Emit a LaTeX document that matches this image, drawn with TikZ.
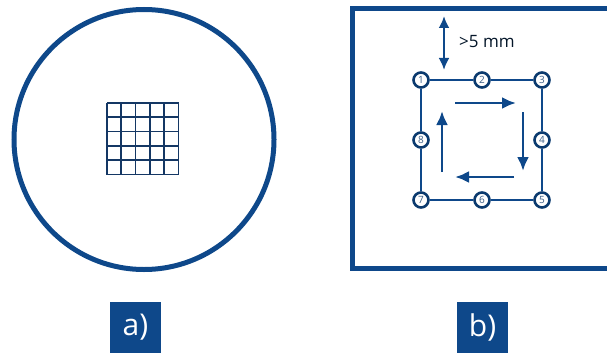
\documentclass[tikz,border=0pt]{standalone}
\usepackage{fontspec}
\setmainfont{Open Sans}
\usetikzlibrary{arrows.meta}
\definecolor{navy}{RGB}{14,72,138}
\definecolor{gridblue}{RGB}{20,55,100}
\tikzset{
  pt/.style={circle, draw=navy!80!black, line width=2.6pt, fill=white, minimum size=15pt, inner sep=0pt,
    text=navy!60!gray, font=\fontsize{10}{10}\selectfont},
  edge/.style={navy, line width=2pt},
  flow/.style={navy, line width=2.8pt, -{Latex[length=14pt,width=12pt]}},
  lab/.style={fill=navy, minimum width=51pt, minimum height=51pt, inner sep=0pt, text=white,
    font=\fontsize{30}{30}\selectfont}
}
\begin{document}
\begin{tikzpicture}[x=1pt,y=-1pt]
\useasboundingbox (0,0) rectangle (607,353);
\clip (0,0) rectangle (607,353);
% a) wafer
\draw[navy, line width=5pt] (144,139.5) circle (130);
\foreach \i in {0,...,5}{
  \draw[gridblue, line width=1.7pt] (107+\i*14.3,103) -- (107+\i*14.3,174.5);
  \draw[gridblue, line width=1.7pt] (107,103+\i*14.3) -- (178.5,103+\i*14.3);
}
% b) frame
\draw[navy, line width=5pt] (352,9) rectangle (640,268);
% points
\node[pt] (n1) at (421,80) {1};
\node[pt] (n2) at (482,80) {2};
\node[pt] (n3) at (542,80) {3};
\node[pt] (n4) at (542,140) {4};
\node[pt] (n5) at (542,200) {5};
\node[pt] (n6) at (482,200) {6};
\node[pt] (n7) at (421,200) {7};
\node[pt] (n8) at (421,140) {8};
\draw[edge] (n1) -- (n2);
\draw[edge] (n2) -- (n3);
\draw[edge] (n3) -- (n4);
\draw[edge] (n4) -- (n5);
\draw[edge] (n5) -- (n6);
\draw[edge] (n6) -- (n7);
\draw[edge] (n7) -- (n8);
\draw[edge] (n8) -- (n1);
% flow arrows
\coordinate (t1) at (455,103); \coordinate (t2) at (516,103);
\coordinate (r1) at (523,112); \coordinate (r2) at (523,171);
\coordinate (b1) at (514,177); \coordinate (b2) at (455,177);
\coordinate (l1) at (442,172); \coordinate (l2) at (442,111);
\draw[flow] (t1) -- (t2);
\draw[flow] (r1) -- (r2);
\draw[flow] (b1) -- (b2);
\draw[flow] (l1) -- (l2);
% distance
\coordinate (d1) at (444,16); \coordinate (d2) at (444,70);
\draw[navy, line width=2.8pt, {Latex[length=12pt,width=11pt]}-{Latex[length=12pt,width=11pt]}] (d1) -- (d2);
\node[text=navy!30!black, font=\fontsize{17}{17}\selectfont, anchor=west, inner sep=0pt] (dl) at (459,42) {>5 mm};
% labels
\node[lab] (la) at (135.5,327.5) {a)};
\node[lab] (lb) at (482.5,327.5) {b)};
\end{tikzpicture}
\end{document}
